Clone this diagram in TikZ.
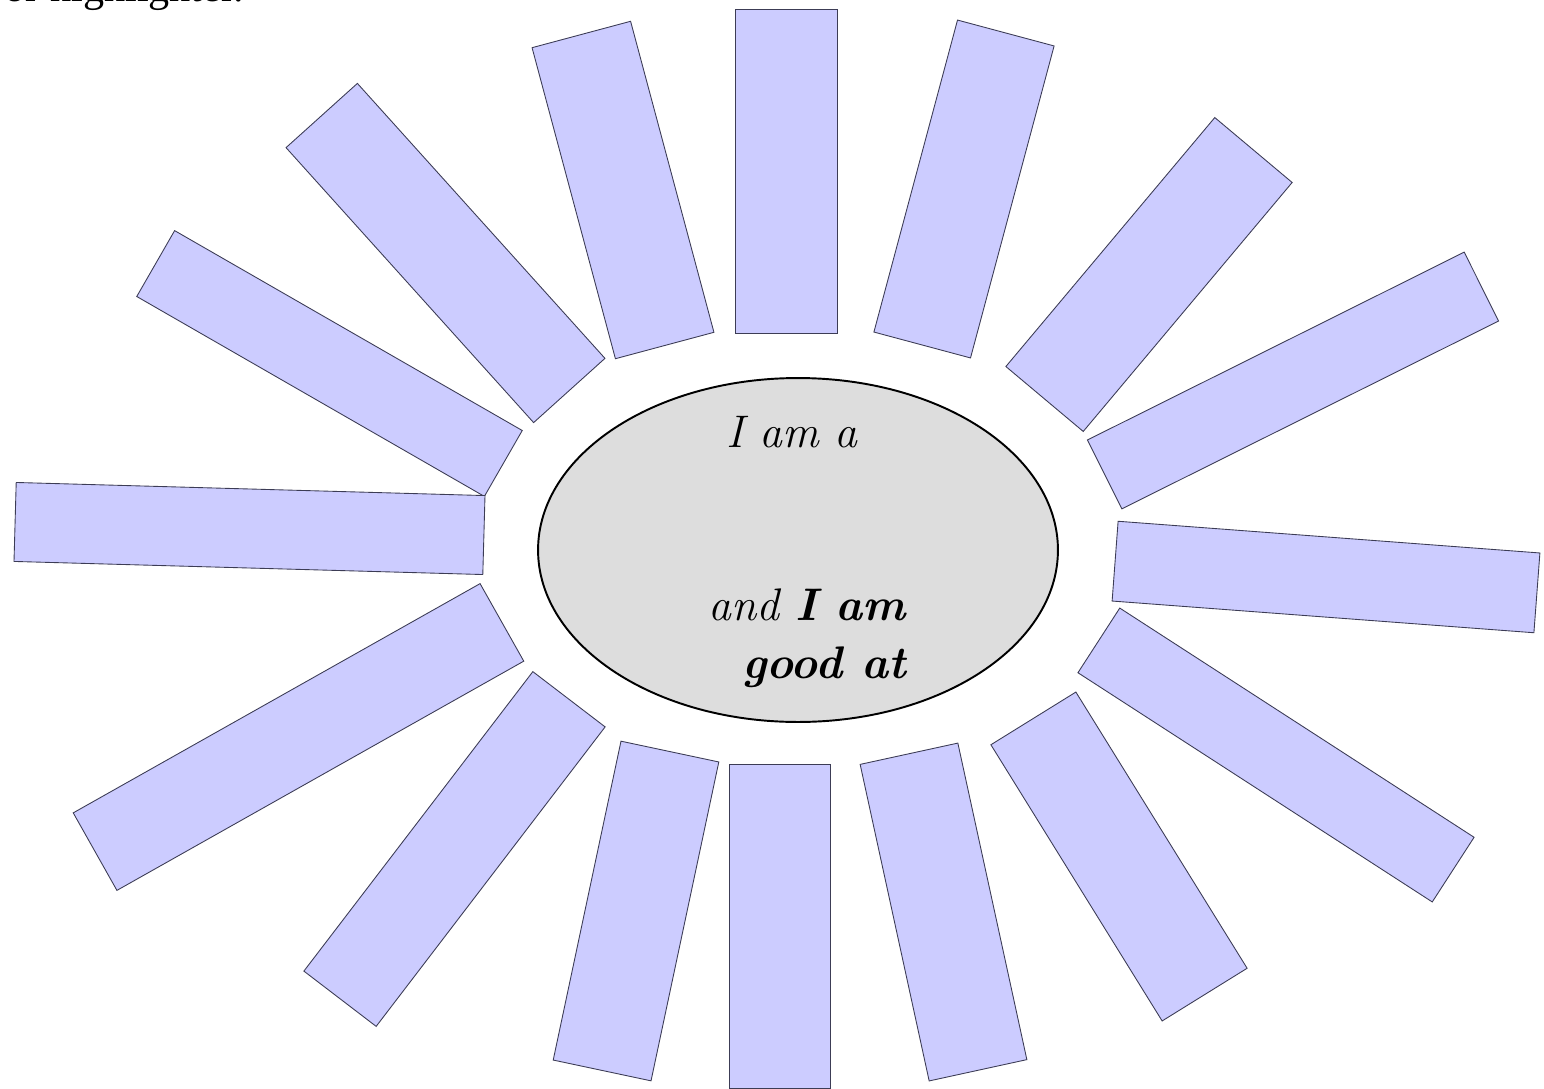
\documentclass[tikz,border=0pt]{standalone}
\usepackage{fontspec}
\usepackage{tikz}
\usetikzlibrary{shapes.geometric, positioning}
\newfontfamily\notefont{Liberation Serif}
\definecolor{raylilac}{RGB}{204, 204, 255}
\definecolor{rayedge}{RGB}{60, 60, 85}
\definecolor{facegray}{RGB}{221, 221, 221}
\tikzset{
  sunray/.style={draw=rayedge, fill=raylilac, line width=0.5pt, rectangle, inner sep=0pt},
  sunface/.style={draw=black, fill=facegray, ellipse, line width=1.1pt, inner sep=0pt,
                  minimum width=10.4cm, minimum height=6.88cm},
  facetext/.style={font=\fontsize{26}{30}\selectfont\itshape, inner sep=0pt}
}

\begin{document}
\begin{tikzpicture}[x=0.02cm, y=-0.02cm]
  \useasboundingbox (0,0) rectangle (1544,1088);
  \clip (0,0) rectangle (1544,1088);

  % cut-off line of the page above
  \node[font=\notefont\fontsize{24}{28}\selectfont, anchor=base east, inner sep=0pt]
    (note) at (244,2) {or highlighter.};

  % rays: centre x / centre y / angle / length / width
  \foreach \cx/\cy/\ang/\len/\wid [count=\i] in {
      786/171/90/324/102, 964/189/75/323/100, 623/190/105/322/102,
      445.5/253/132/370/96, 329.5/363.5/150.1/401/76, 249.5/528.5/178.4/469/79,
      298.5/737/209.4/467/89, 454.5/849/232.6/377/91, 636/911/258/326/100,
      779.5/926/90/324/101, 943.5/912/282.3/324/100, 1119/856.5/301.8/325/100,
      1276/755/327.1/422/77, 1326/577/355.7/423/80, 1293/380.5/26.5/421/77,
      1149/274.5/50/325/101}
    \node[sunray, rotate=\ang, minimum width=\len*0.02cm, minimum height=\wid*0.02cm]
      (ray\i) at (\cx,\cy) {};

  % centre
  \node[sunface] (face) at (798,550) {};
  \node[facetext] (iama) at (792,432) {I am a};
  \node[facetext] (andiam) at (807,605) {and \textbf{I am}};
  \node[facetext] (goodat) at (824,667) {\textbf{good at}};
\end{tikzpicture}
\end{document}
